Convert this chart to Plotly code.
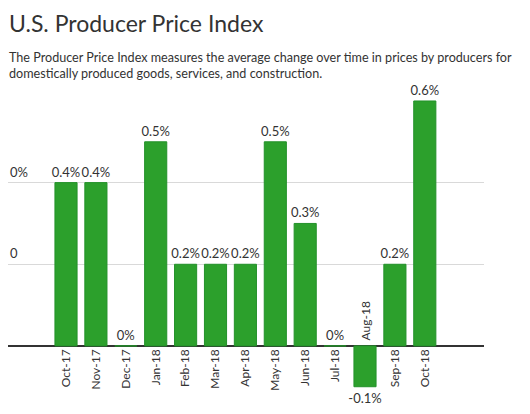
import plotly.graph_objects as go

months = ["Oct-17", "Nov-17", "Dec-17", "Jan-18", "Feb-18", "Mar-18", "Apr-18",
          "May-18", "Jun-18", "Jul-18", "Aug-18", "Sep-18", "Oct-18"]
values = [0.4, 0.4, 0.0, 0.5, 0.2, 0.2, 0.2, 0.5, 0.3, 0.0, -0.1, 0.2, 0.6]
labels = ["0.4%", "0.4%", "0%", "0.5%", "0.2%", "0.2%", "0.2%", "0.5%", "0.3%", "0%", "-0.1%", "0.2%", "0.6%"]
ytick_vals = [0.2, 0.4]
ytick_text = ["0", "0%"]

FONT = "Lato, Open Sans, sans-serif"
TXT = "#333333"
Y_RANGE = [-0.1325, 0.622]

# axis tick labels: negative bars get their label above the baseline
tick_text = [m if v >= 0 else "" for m, v in zip(months, values)]

fig = go.Figure()
fig.add_trace(go.Bar(
    x=list(range(len(months))), y=values,
    text=labels, textposition="outside", cliponaxis=False, constraintext="none",
    textfont=dict(family=FONT, size=13, color=TXT),
    marker=dict(color="#2ca02c", line=dict(color="#23912a", width=1)),
    width=0.74, hoverinfo="skip",
))

for i, (m, v) in enumerate(zip(months, values)):
    if v < 0:
        fig.add_annotation(x=i, y=0, text=m, textangle=-90, showarrow=False,
                           xanchor="center", yanchor="bottom", yshift=3,
                           font=dict(family=FONT, size=12, color=TXT))

for v, t in zip(ytick_vals, ytick_text):
    fig.add_annotation(x=0, y=v, xref="paper", yref="y", text=t, showarrow=False,
                       xanchor="left", yanchor="bottom", xshift=0, yshift=1,
                       font=dict(family=FONT, size=13, color=TXT))

fig.add_annotation(x=0, y=1, xref="paper", yref="paper", xanchor="left", yanchor="top",
                   xshift=-1, yshift=85, text="U.S. Producer Price Index", showarrow=False,
                   font=dict(family=FONT, size=23, color=TXT))

fig.add_annotation(x=0, y=1, xref="paper", yref="paper", xanchor="left", yanchor="top",
                   xshift=-1, yshift=44, align="left", showarrow=False,
                   text="The Producer Price Index measures the average change over time in prices by producers for<br>domestically produced goods, services, and construction.",
                   font=dict(family=FONT, size=12.6, color=TXT))

base_pos = (0 - Y_RANGE[0]) / (Y_RANGE[1] - Y_RANGE[0])

fig.update_layout(
    width=522, height=406,
    margin=dict(l=0, r=46, t=84, b=14, autoexpand=False),
    paper_bgcolor="white", plot_bgcolor="white",
    showlegend=False,
    xaxis=dict(range=[-1.94, 13.98], tickmode="array", tickvals=list(range(len(months))),
               ticktext=tick_text, tickangle=-90, showgrid=False, zeroline=False,
               showline=False, ticks="", anchor="free", position=base_pos, automargin=False,
               tickfont=dict(family=FONT, size=12, color=TXT), fixedrange=True),
    yaxis=dict(range=Y_RANGE, tickmode="array", tickvals=ytick_vals,
               showticklabels=False, automargin=False,
               showgrid=True, gridcolor="#d9d9d9", gridwidth=1,
               zeroline=True, zerolinecolor="#333333", zerolinewidth=1.5,
               showline=False, ticks="", fixedrange=True),
)

fig.write_html("out.html")
